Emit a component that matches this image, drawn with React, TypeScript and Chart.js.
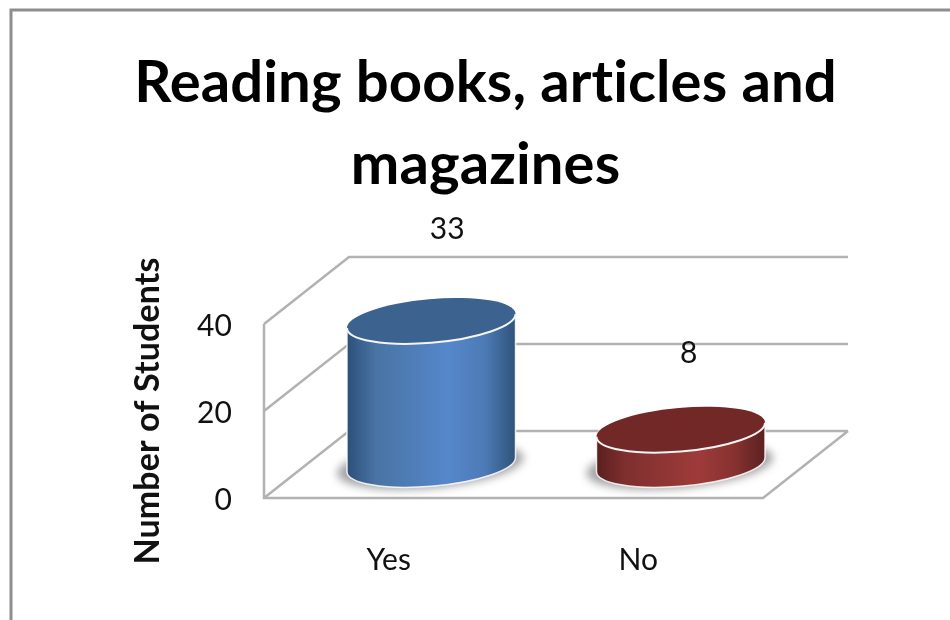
import { useEffect, useRef } from "react";
import { Chart, registerables } from "chart.js";

Chart.register(...registerables);

const titleLines = ["Reading books, articles and", "magazines"];
const axisTitle = "Number of Students";
const categories = ["Yes", "No"];
const students = [33, 8];
const yTicks = [0, 20, 40];

// Oblique projection of the chart box: how far the back wall sits from the front plane.
const DEPTH_X = 85;
const DEPTH_Y = 67;
const RIGHT_RESERVE = 187;
// Ellipse shape of the cylinder caps.
const CAP_RATIO = 0.257;
const CAP_TILT = (5.07 * Math.PI) / 180;
const LABEL_SHIFT = [
  { dx: 16, dy: -92 },
  { dx: 8, dy: -76 },
];
const BODY_STOPS = [
  ["#2d4f7a", "#4873a3", "#5587cb", "#4c7ab5", "#2f5379"],
  ["#5a1f1e", "#7e2f2e", "#9e3b3a", "#863130", "#5a2120"],
];
const CAP_COLORS = ["#3c628f", "#722826"];
const GRID = "#b2b2b2";
const FRAME = "#8e8e8e";
const FONT = "Lato, Carlito, sans-serif";

// A tiny letter spacing keeps the canvas from forming "ti" ligatures.
const textSetup = {
  id: "textSetup",
  beforeInit(chart: any) {
    chart.ctx.letterSpacing = "0.1px";
  },
  beforeDraw(chart: any) {
    chart.ctx.letterSpacing = "0.1px";
  },
};

const frameAndWalls = {
  id: "frameAndWalls",
  beforeDatasetsDraw(chart: any) {
    const { ctx, scales } = chart;
    const x = scales.x;
    const y = scales.y;
    ctx.save();
    ctx.strokeStyle = FRAME;
    ctx.lineWidth = 3;
    ctx.beginPath();
    ctx.moveTo(11, chart.height + 5);
    ctx.lineTo(11, 10);
    ctx.lineTo(chart.width + 5, 10);
    ctx.stroke();

    ctx.strokeStyle = GRID;
    ctx.lineWidth = 2.5;
    const left = x.left;
    const right = x.right;
    ctx.beginPath();
    for (const t of yTicks) {
      const py = y.getPixelForValue(t);
      ctx.moveTo(left, py);
      ctx.lineTo(left + DEPTH_X, py - DEPTH_Y);
      ctx.lineTo(right + DEPTH_X, py - DEPTH_Y);
    }
    ctx.moveTo(left, y.top);
    ctx.lineTo(left, y.bottom);
    ctx.lineTo(right, y.bottom);
    ctx.lineTo(right + DEPTH_X, y.bottom - DEPTH_Y);
    ctx.stroke();
    ctx.restore();
  },
};

const cylinders = {
  id: "cylinders",
  afterDatasetsDraw(chart: any) {
    const { ctx } = chart;
    const meta = chart.getDatasetMeta(0);
    meta.data.forEach((bar: any, i: number) => {
      const cx = bar.x + DEPTH_X / 2;
      const topY = bar.y - DEPTH_Y / 2;
      const baseY = bar.base - DEPTH_Y / 2;
      const a = bar.width / 2;
      const b = a * CAP_RATIO;
      const t0 = Math.atan(CAP_RATIO * Math.tan(CAP_TILT));

      ctx.save();
      // Soft contact shadow on the floor
      ctx.filter = "blur(4px)";
      ctx.fillStyle = "#a4a4a4";
      ctx.beginPath();
      ctx.ellipse(cx - 1, baseY + 1, a + 9, b + 1, -CAP_TILT, 0, Math.PI * 2);
      ctx.fill();
      ctx.restore();

      ctx.save();
      const grad = ctx.createLinearGradient(cx - a, 0, cx + a, 0);
      const stops = BODY_STOPS[i];
      [0, 0.17, 0.6, 0.82, 1].forEach((p, k) => grad.addColorStop(p, stops[k]));
      ctx.beginPath();
      ctx.ellipse(cx, baseY, a, b, -CAP_TILT, t0, t0 + Math.PI);
      ctx.ellipse(cx, topY, a, b, -CAP_TILT, t0 + Math.PI, t0 + Math.PI * 2);
      ctx.closePath();
      ctx.fillStyle = grad;
      ctx.fill();
      ctx.strokeStyle = "rgba(255,255,255,0.85)";
      ctx.lineWidth = 1.5;
      ctx.stroke();

      ctx.beginPath();
      ctx.ellipse(cx, topY, a, b, -CAP_TILT, 0, Math.PI * 2);
      ctx.fillStyle = CAP_COLORS[i];
      ctx.fill();
      ctx.beginPath();
      ctx.ellipse(cx, topY, a, b, -CAP_TILT, t0, t0 + Math.PI);
      ctx.strokeStyle = "#f4f4f4";
      ctx.lineWidth = 2;
      ctx.stroke();
      ctx.restore();

      ctx.save();
      ctx.font = `30px ${FONT}`;
      ctx.fillStyle = "#111111";
      ctx.textAlign = "center";
      ctx.textBaseline = "middle";
      ctx.fillText(String(students[i]), cx + LABEL_SHIFT[i].dx, topY + LABEL_SHIFT[i].dy);
      ctx.restore();
    });
  },
};

export default function App() {
  const ref = useRef<HTMLCanvasElement>(null);
  useEffect(() => {
    const chart = new Chart(ref.current!, {
      type: "bar",
      data: {
        labels: categories,
        datasets: [
          {
            label: axisTitle,
            data: students,
            backgroundColor: "rgba(0,0,0,0)",
            borderWidth: 0,
            barPercentage: 1,
            categoryPercentage: 0.678,
          },
        ],
      },
      plugins: [textSetup, frameAndWalls, cylinders],
      options: {
        responsive: false,
        animation: false,
        layout: { padding: { left: 21, right: 0, top: 0, bottom: 0 } },
        plugins: {
          legend: { display: false },
          tooltip: { enabled: false },
          title: {
            display: true,
            text: titleLines,
            color: "#000000",
            font: { family: FONT, size: 58, weight: "bold", lineHeight: 1.414 },
            padding: { top: 42, bottom: 118 },
          },
        },
        scales: {
          x: {
            grid: { display: false, drawTicks: false },
            border: { display: false },
            ticks: { color: "#111111", font: { family: FONT, size: 30 }, padding: 44 },
            afterFit(scale: any) {
              scale.height = 122;
            },
          },
          y: {
            min: 0,
            max: 40,
            grid: { display: false, drawTicks: false },
            border: { display: false },
            ticks: {
              stepSize: 20,
              color: "#111111",
              font: { family: FONT, size: 30 },
              padding: 32,
              labelOffset: 2,
            },
            title: {
              display: true,
              text: axisTitle,
              color: "#111111",
              font: { family: FONT, size: 34, weight: "bold", lineHeight: 1.2 },
              padding: { top: 107, bottom: 0 },
            },
            afterFit(scale: any) {
              scale.width = 243;
            },
          },
          // Empty axis that keeps the room taken by the receding floor and back wall.
          side: {
            position: "right",
            display: true,
            grid: { display: false, drawTicks: false },
            border: { display: false },
            ticks: { display: false },
            afterFit(scale: any) {
              scale.width = RIGHT_RESERVE;
            },
          },
        },
      },
    } as any);
    return () => chart.destroy();
  }, []);
  return (
    <canvas
      ref={ref}
      width={950}
      height={620}
      style={{ position: "fixed", left: 0, top: 0, display: "block", background: "#ffffff" }}
    />
  );
}
